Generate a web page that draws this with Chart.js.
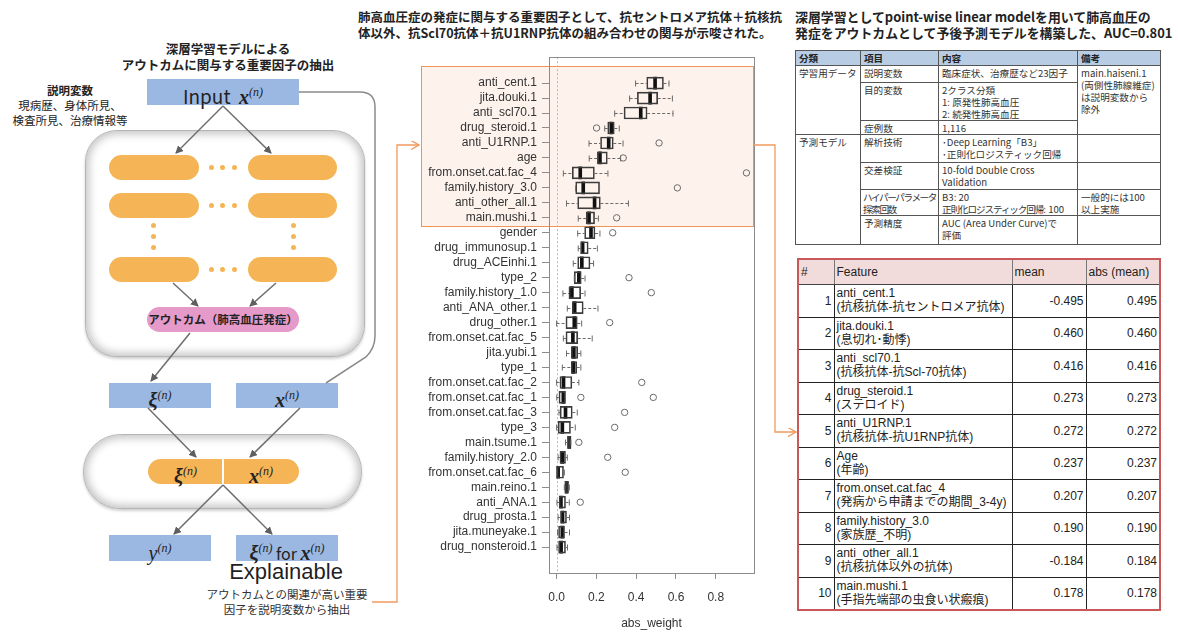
<!DOCTYPE html>
<html lang="ja">
<head>
<meta charset="utf-8">
<title>肺高血圧 重要因子</title>
<script src="https://cdn.jsdelivr.net/npm/chart.js@4.4.1/dist/chart.umd.min.js"></script>
<style>
  html, body { margin: 0; padding: 0; background: #fff; }
  body { width: 1178px; height: 633px; position: relative; overflow: hidden;
         font-family: "Noto Sans CJK JP", "Liberation Sans", sans-serif; color: #222; }
  .abs { position: absolute; }
  .title { font-weight: bold; font-size: 12.5px; line-height: 16px; white-space: nowrap; }
  .panel { background: #fff; border: 1px solid #b5b5b5;
           box-shadow: inset 0 0 9px 3px #c4c4c4, 0 2px 3px #d0d0d0; }
  .blue { background: #9bb8e2; text-align: center; }
  .bar { background: #f5b556; border-radius: 13px; }
  .dot { width: 5px; height: 5px; border-radius: 50%; background: #f5b556; }
  .m { font-family: "Liberation Serif", "DejaVu Serif", serif; font-style: italic; font-weight: bold; font-size: 20px; }
  .ms { font-family: "Liberation Serif", "DejaVu Serif", serif; font-style: italic; font-size: 12px; vertical-align: 8px; }
  table { border-collapse: collapse; table-layout: fixed; }
  #t1 { font-size: 9.6px; line-height: 12px; border: 1.5px solid #555; color: #333; }
  #t1 td, #t1 th { border: 1px solid #555; padding: 1px 2px 0 3px; vertical-align: top; text-align: left; white-space: nowrap; overflow: hidden; }
  #t1 th { background: #b8cce4; font-weight: bold; color: #222; }
  #t1 .k { letter-spacing: -1.1px; }
  #t1 .kk { letter-spacing: -1.4px; padding-left: 2px; }
  #t2 { font-family: "Liberation Sans", "Noto Sans CJK JP", sans-serif; font-size: 12px; line-height: 14px;
        border: 2px solid #c9585a; }
  #t2 td, #t2 th { border: 1px solid #222; padding: 0 2px; white-space: nowrap; }
  #t2 th { background: #f2dcdb; font-weight: normal; text-align: left; height: 24px; border-color: #c9585a #777 #444 #777; }
  #t2 td { height: 30.5px; }
  #t2 td.num { text-align: right; vertical-align: middle; }
  #t2 td.feat { vertical-align: top; padding-top: 1px; }
</style>
</head>
<body>

<!-- left: model diagram -->
<div class="abs title" style="left:80px; top:41px; width:296px; text-align:center;">深層学習モデルによる<br>アウトカムに関与する重要因子の抽出</div>
<div class="abs" style="left:0; top:83px; width:140px; text-align:center; font-size:11.5px; line-height:15px;">
  <b>説明変数</b><br>現病歴、身体所見、<br>検査所見、治療情報等</div>

<div class="abs blue" style="left:147px; top:79px; width:152px; height:26px; line-height:26px; font-size:19px;">
  Input&nbsp;&nbsp;<span class="m">x</span><span class="ms">(n)</span></div>

<div class="abs panel" style="left:85px; top:130px; width:278px; height:225px; border-radius:32px;"></div>
<div class="abs bar" style="left:109px; top:155px; width:90px; height:25px;"></div>
<div class="abs bar" style="left:248px; top:155px; width:89px; height:25px;"></div>
<div class="abs bar" style="left:109px; top:193px; width:90px; height:25px;"></div>
<div class="abs bar" style="left:248px; top:193px; width:89px; height:25px;"></div>
<div class="abs bar" style="left:109px; top:257px; width:90px; height:25px;"></div>
<div class="abs bar" style="left:248px; top:257px; width:89px; height:25px;"></div>
<div class="abs dot" style="left:209px; top:165px;"></div><div class="abs dot" style="left:220px; top:165px;"></div><div class="abs dot" style="left:232px; top:165px;"></div>
<div class="abs dot" style="left:209px; top:203px;"></div><div class="abs dot" style="left:220px; top:203px;"></div><div class="abs dot" style="left:232px; top:203px;"></div>
<div class="abs dot" style="left:209px; top:267px;"></div><div class="abs dot" style="left:220px; top:267px;"></div><div class="abs dot" style="left:232px; top:267px;"></div>
<div class="abs dot" style="left:151px; top:223px;"></div><div class="abs dot" style="left:151px; top:234px;"></div><div class="abs dot" style="left:151px; top:245px;"></div>
<div class="abs dot" style="left:291px; top:223px;"></div><div class="abs dot" style="left:291px; top:234px;"></div><div class="abs dot" style="left:291px; top:245px;"></div>
<div class="abs" style="left:147px; top:307px; width:152px; height:25px; border-radius:13px; background:#e59ac9;
     text-align:center; line-height:25px; font-size:11.5px; font-weight:bold;">アウトカム（肺高血圧発症）</div>

<div class="abs blue" style="left:109px; top:383px; width:102px; height:25px; line-height:25px;">
  <span class="m">ξ</span><span class="ms">(n)</span></div>
<div class="abs blue" style="left:236px; top:383px; width:102px; height:25px; line-height:25px;">
  <span class="m">x</span><span class="ms">(n)</span></div>

<div class="abs panel" style="left:83px; top:434px; width:277px; height:73px; border-radius:38px;"></div>
<div class="abs bar" style="left:148px; top:459px; width:151px; height:25px; text-align:center; line-height:25px;">
  <span style="display:inline-block; width:73px; border-right:2px solid #fff;"><span class="m">ξ</span><span class="ms">(n)</span></span><span style="display:inline-block; width:74px;"><span class="m">x</span><span class="ms">(n)</span></span></div>

<div class="abs blue" style="left:109px; top:535px; width:102px; height:26px; line-height:26px;">
  <span class="m" style="font-weight:normal;">y</span><span class="ms">(n)</span></div>
<div class="abs blue" style="left:236px; top:535px; width:102px; height:26px; line-height:26px; font-size:16px;">
  <span class="m">ξ</span><span class="ms">(n)</span> for <span class="m">x</span><span class="ms">(n)</span></div>
<div class="abs" style="left:206px; top:559px; width:160px; text-align:center; font-family:'Liberation Sans',sans-serif; font-size:22px; color:#1f1f1f;">Explainable</div>
<div class="abs" style="left:190px; top:587px; width:194px; text-align:center; font-size:11.5px; line-height:15px; color:#333;">アウトカムとの関連が高い重要<br>因子を説明変数から抽出</div>

<!-- middle: title, highlight, chart -->
<div class="abs title" style="left:358px; top:9px;">肺高血圧症の発症に関与する重要因子として、抗セントロメア抗体＋抗核抗<br>体以外、抗Scl70抗体＋抗U1RNP抗体の組み合わせの関与が示唆された。</div>
<div class="abs" style="left:421px; top:66px; width:331px; height:159px; background:#fdf2ec; border:1.5px solid #ef9553;"></div>
<div class="abs" style="left:420px; top:45px; width:345px; height:590px;">
  <canvas id="boxChart" width="345" height="590"></canvas>
</div>

<!-- right: title and tables -->
<div class="abs title" style="left:795px; top:9px; font-size:12.9px;">深層学習としてpoint-wise linear modelを用いて肺高血圧の<br>発症をアウトカムとして予後予測モデルを構築した、AUC=0.801</div>

<table id="t1" class="abs" style="left:795px; top:50px; width:365px;">
  <colgroup><col style="width:65px"><col style="width:78px"><col style="width:139px"><col style="width:83px"></colgroup>
  <tr style="height:15px"><th>分類</th><th>項目</th><th>内容</th><th>備考</th></tr>
  <tr style="height:17px"><td rowspan="3">学習用データ</td><td>説明変数</td><td>臨床症状、治療歴など23因子</td>
      <td rowspan="3">main.haiseni.1<br>(両側性肺線維症)<br>は説明変数から<br>除外</td></tr>
  <tr style="height:37px"><td>目的変数</td><td>2クラス分類<br>1: 原発性肺高血圧<br>2: 続発性肺高血圧</td></tr>
  <tr style="height:13px"><td>症例数</td><td>1,116</td></tr>
  <tr style="height:28px"><td rowspan="4">予測モデル</td><td>解析技術</td><td>･Deep Learning「B3」<br>･正則化ロジスティック回帰</td><td></td></tr>
  <tr style="height:27px"><td>交差検証</td><td>10-fold Double Cross<br>Validation</td><td></td></tr>
  <tr style="height:26px"><td class="kk">ハイパーパラメータ<br>探索回数</td><td>B3: 20<br><span class="k">正則化ロジスティック回帰</span>: 100</td><td>一般的には100<br>以上実施</td></tr>
  <tr style="height:29px"><td>予測精度</td><td>AUC (Area Under Curve)で<br>評価</td><td></td></tr>
</table>

<table id="t2" class="abs" style="left:797px; top:258px; width:362px;">
  <colgroup><col style="width:36px"><col style="width:178px"><col style="width:74px"><col style="width:74px"></colgroup>
  <tr><th>#</th><th>Feature</th><th>mean</th><th>abs (mean)</th></tr>
  <tr><td class="num">1</td><td class="feat">anti_cent.1<br>(抗核抗体-抗セントロメア抗体)</td><td class="num">-0.495</td><td class="num">0.495</td></tr>
  <tr><td class="num">2</td><td class="feat">jita.douki.1<br>(息切れ･動悸)</td><td class="num">0.460</td><td class="num">0.460</td></tr>
  <tr><td class="num">3</td><td class="feat">anti_scl70.1<br>(抗核抗体-抗Scl-70抗体)</td><td class="num">0.416</td><td class="num">0.416</td></tr>
  <tr><td class="num">4</td><td class="feat">drug_steroid.1<br>(ステロイド)</td><td class="num">0.273</td><td class="num">0.273</td></tr>
  <tr><td class="num">5</td><td class="feat">anti_U1RNP.1<br>(抗核抗体-抗U1RNP抗体)</td><td class="num">0.272</td><td class="num">0.272</td></tr>
  <tr><td class="num">6</td><td class="feat">Age<br>(年齢)</td><td class="num">0.237</td><td class="num">0.237</td></tr>
  <tr><td class="num">7</td><td class="feat">from.onset.cat.fac_4<br>(発病から申請までの期間_3-4y)</td><td class="num">0.207</td><td class="num">0.207</td></tr>
  <tr><td class="num">8</td><td class="feat">family.history_3.0<br>(家族歴_不明)</td><td class="num">0.190</td><td class="num">0.190</td></tr>
  <tr><td class="num">9</td><td class="feat">anti_other_all.1<br>(抗核抗体以外の抗体)</td><td class="num">-0.184</td><td class="num">0.184</td></tr>
  <tr><td class="num">10</td><td class="feat">main.mushi.1<br>(手指先端部の虫食い状瘢痕)</td><td class="num">0.178</td><td class="num">0.178</td></tr>
</table>

<!-- arrows and connectors -->
<svg class="abs" style="left:0; top:0;" width="1178" height="633">
  <defs>
    <marker id="ah" markerWidth="8" markerHeight="8" refX="7" refY="4" orient="auto" markerUnits="userSpaceOnUse">
      <path d="M0,0 L8,4 L0,8 z" fill="#5f5f5f"/>
    </marker>
    <marker id="oh" markerWidth="9" markerHeight="9" refX="8" refY="4.5" orient="auto" markerUnits="userSpaceOnUse">
      <path d="M0,0 L8,4.5 L0,9" fill="none" stroke="#f19a5e" stroke-width="1.3"/>
    </marker>
  </defs>
  <g stroke="#6e6e6e" stroke-width="1.5" fill="none">
    <line x1="223" y1="106" x2="176" y2="153" marker-end="url(#ah)"/>
    <line x1="223" y1="106" x2="271" y2="153" marker-end="url(#ah)"/>
    <line x1="173" y1="283" x2="198" y2="306" marker-end="url(#ah)"/>
    <line x1="276" y1="283" x2="250" y2="306" marker-end="url(#ah)"/>
    <line x1="190" y1="333" x2="151" y2="381" marker-end="url(#ah)"/>
    <line x1="148" y1="408" x2="196" y2="457" marker-end="url(#ah)"/>
    <line x1="300" y1="408" x2="250" y2="457" marker-end="url(#ah)"/>
    <line x1="223" y1="485" x2="174" y2="534" marker-end="url(#ah)"/>
    <line x1="223" y1="485" x2="272" y2="534" marker-end="url(#ah)"/>
  </g>
  <path d="M299,92 H360 Q375,92 375,107 V336 Q375,348 366,357 L326,383" stroke="#8a8a8a" stroke-width="1.5" fill="none"/>
  <path d="M372,602 H397 V145 H419" stroke="#f19a5e" stroke-width="1.3" fill="none" marker-end="url(#oh)"/>
  <path d="M754,145 H775 V432 H796" stroke="#f19a5e" stroke-width="1.3" fill="none" marker-end="url(#oh)"/>
</svg>

<script>
// Feature importance (abs_weight) box plot, rows top to bottom
const featureLabels = [
  'anti_cent.1', 'jita.douki.1', 'anti_scl70.1', 'drug_steroid.1', 'anti_U1RNP.1',
  'age', 'from.onset.cat.fac_4', 'family.history_3.0', 'anti_other_all.1', 'main.mushi.1',
  'gender', 'drug_immunosup.1', 'drug_ACEinhi.1', 'type_2', 'family.history_1.0',
  'anti_ANA_other.1', 'drug_other.1', 'from.onset.cat.fac_5', 'jita.yubi.1', 'type_1',
  'from.onset.cat.fac_2', 'from.onset.cat.fac_1', 'from.onset.cat.fac_3', 'type_3', 'main.tsume.1',
  'family.history_2.0', 'from.onset.cat.fac_6', 'main.reino.1', 'anti_ANA.1', 'drug_prosta.1',
  'jita.muneyake.1', 'drug_nonsteroid.1'
];
const whiskerLow = [
  0.397, 0.367, 0.292, 0.242, 0.163, 0.164, 0.034, 0.096, 0.050, 0.109,
  0.106, 0.109, 0.084, 0.089, 0.032, 0.054, 0.000, 0.034, 0.050, 0.029,
  0.000, 0.001, 0.012, 0.000, 0.045, 0.008, 0.000, 0.039, 0.002, 0.008,
  0.005, 0.002
];
const q1Values = [
  0.453, 0.406, 0.339, 0.257, 0.221, 0.205, 0.079, 0.096, 0.106, 0.149,
  0.141, 0.121, 0.106, 0.089, 0.062, 0.079, 0.047, 0.047, 0.074, 0.074,
  0.017, 0.012, 0.018, 0.008, 0.055, 0.017, 0.002, 0.044, 0.013, 0.020,
  0.010, 0.010
];
const medianValues = [
  0.495, 0.470, 0.423, 0.275, 0.262, 0.218, 0.119, 0.134, 0.191, 0.163,
  0.173, 0.131, 0.127, 0.112, 0.077, 0.091, 0.089, 0.082, 0.087, 0.084,
  0.035, 0.034, 0.045, 0.029, 0.064, 0.029, 0.008, 0.050, 0.022, 0.030,
  0.029, 0.023
];
const q3Values = [
  0.537, 0.508, 0.455, 0.290, 0.285, 0.255, 0.190, 0.216, 0.220, 0.191,
  0.193, 0.159, 0.168, 0.124, 0.121, 0.134, 0.104, 0.106, 0.106, 0.101,
  0.077, 0.045, 0.079, 0.070, 0.070, 0.045, 0.035, 0.060, 0.045, 0.050,
  0.040, 0.045
];
const whiskerHigh = [
  0.565, 0.582, 0.585, 0.315, 0.334, 0.322, 0.258, 0.216, 0.361, 0.210,
  0.218, 0.205, 0.186, 0.143, 0.143, 0.208, 0.126, 0.179, 0.122, 0.122,
  0.112, 0.045, 0.104, 0.094, 0.072, 0.054, 0.039, 0.064, 0.064, 0.065,
  0.065, 0.055
];
// outliers: row number (1 = top) and value
const outlierRows   = [4, 5, 6, 7, 8, 10, 11, 14, 15, 17, 21, 22, 22, 23, 24, 25, 26, 27, 29];
const outlierValues = [0.201, 0.515, 0.335, 0.954, 0.607, 0.302, 0.282, 0.364, 0.476, 0.267,
                       0.428, 0.122, 0.486, 0.342, 0.292, 0.112, 0.257, 0.345, 0.119];
const xTickValues = [0, 0.2, 0.4, 0.6, 0.8];

const axisFont = { family: 'Liberation Sans, Arial, sans-serif', size: 12 };

// whiskers, zero reference line and plot frame (R boxplot look)
const boxplotExtras = {
    id: 'boxplotExtras',
    beforeDatasetsDraw(chart) {
        const { ctx, chartArea, scales: { x } } = chart;
        const zx = Math.round(x.getPixelForValue(0)) + 0.5;
        ctx.save();
        ctx.strokeStyle = '#b8b8b8';
        ctx.lineWidth = 1;
        ctx.setLineDash([2, 2]);
        ctx.beginPath();
        ctx.moveTo(zx, chartArea.top);
        ctx.lineTo(zx, chartArea.bottom);
        ctx.stroke();
        ctx.restore();
    },
    afterDatasetsDraw(chart) {
        const { ctx, chartArea, scales: { x, y } } = chart;
        ctx.save();
        ctx.strokeStyle = '#6a6a6a';
        ctx.lineWidth = 1;
        featureLabels.forEach((name, i) => {
            const py = Math.round(y.getPixelForValue(i + 1)) + 0.5;
            const lo = x.getPixelForValue(whiskerLow[i]);
            const a = x.getPixelForValue(q1Values[i]);
            const b = x.getPixelForValue(q3Values[i]);
            const hi = x.getPixelForValue(whiskerHigh[i]);
            ctx.setLineDash([3, 2]);
            ctx.beginPath();
            ctx.moveTo(lo, py); ctx.lineTo(a, py);
            ctx.moveTo(b, py); ctx.lineTo(hi, py);
            ctx.stroke();
            ctx.setLineDash([]);
            ctx.beginPath();
            ctx.moveTo(lo, py - 3); ctx.lineTo(lo, py + 3);
            ctx.moveTo(hi, py - 3); ctx.lineTo(hi, py + 3);
            ctx.stroke();
        });
        ctx.strokeStyle = '#8c8c8c';
        ctx.strokeRect(Math.round(chartArea.left) + 0.5, Math.round(chartArea.top) + 0.5,
            Math.round(chartArea.right - chartArea.left), Math.round(chartArea.bottom - chartArea.top));
        ctx.restore();
    }
};

const boxData = featureLabels.map((name, i) => ({ y: i + 1, x: [q1Values[i], q3Values[i]] }));
const medianData = featureLabels.map((name, i) => ({ y: i + 1, x: [medianValues[i] - 0.0075, medianValues[i] + 0.0075] }));
const outlierData = outlierRows.map((row, k) => ({ x: outlierValues[k], y: row }));

new Chart(document.getElementById('boxChart').getContext('2d'), {
    type: 'bar',
    data: {
        datasets: [
            {
                label: 'box',
                data: boxData,
                backgroundColor: 'rgba(255,255,255,0)',
                borderColor: '#3c3c3c',
                borderWidth: 1,
                borderSkipped: false,
                barThickness: 12,
                grouped: false
            },
            {
                label: 'median',
                data: medianData,
                backgroundColor: '#111',
                borderWidth: 0,
                barThickness: 12,
                grouped: false
            },
            {
                type: 'scatter',
                label: 'outlier',
                data: outlierData,
                pointStyle: 'circle',
                pointRadius: 3.2,
                borderColor: '#6a6a6a',
                backgroundColor: 'rgba(0,0,0,0)',
                borderWidth: 1
            }
        ]
    },
    options: {
        indexAxis: 'y',
        responsive: false,
        animation: false,
        layout: { padding: { top: 7, right: 11, left: 0, bottom: 0 } },
        plugins: { legend: { display: false }, tooltip: { enabled: false } },
        scales: {
            x: {
                type: 'linear',
                position: 'bottom',
                offset: false,
                grace: 0,
                min: -0.038,
                max: 0.992,
                afterBuildTicks: axis => { axis.ticks = xTickValues.map(v => ({ value: v })); },
                afterFit: axis => { axis.height = 62; },
                ticks: { callback: v => Number(v).toFixed(1), color: '#333', font: axisFont, padding: 11, maxRotation: 0 },
                grid: { drawOnChartArea: false, offset: false, tickLength: 6, color: '#8c8c8c' },
                border: { display: false },
                title: { display: true, text: 'abs_weight', color: '#333', font: axisFont, padding: { top: 14, bottom: 4 } }
            },
            y: {
                type: 'linear',
                position: 'left',
                offset: false,
                grace: 0,
                reverse: true,
                min: 1 - 1.73,
                max: featureLabels.length + 1.73,
                afterBuildTicks: axis => { axis.ticks = featureLabels.map((n, i) => ({ value: i + 1 })); },
                afterFit: axis => { axis.width = 129; },
                ticks: { callback: v => featureLabels[v - 1] || '', autoSkip: false, color: '#333', font: axisFont, padding: 5 },
                grid: { drawOnChartArea: false, offset: false, tickLength: 7, color: '#8c8c8c' },
                border: { display: false }
            }
        }
    },
    plugins: [boxplotExtras]
});
</script>
</body>
</html>
